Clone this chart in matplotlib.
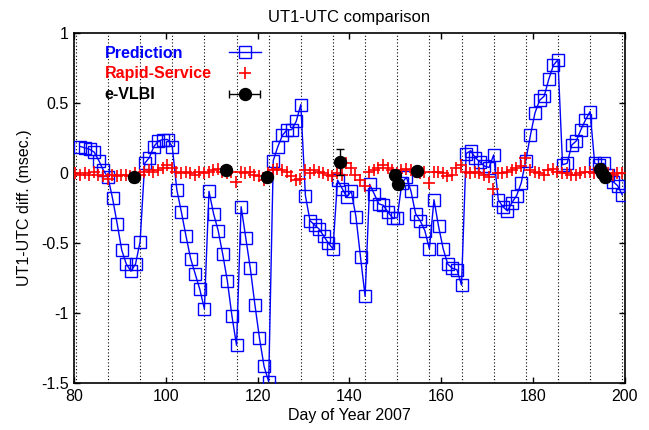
import numpy as np
import matplotlib
matplotlib.use("Agg")
import matplotlib.pyplot as plt
from matplotlib.ticker import FormatStrFormatter
from matplotlib.legend_handler import HandlerErrorbar

plt.rcParams['font.family'] = ['Liberation Sans', 'DejaVu Sans']
plt.rcParams['axes.unicode_minus'] = False

# Prediction (daily, blue squares)
pred_day0 = 81.4
pred_val = [0.19, 0.18, 0.17, 0.15, 0.09, 0.02, -0.03,
            -0.18, -0.36, -0.55, -0.65, -0.70, -0.65, -0.49,
            0.07, 0.11, 0.19, 0.23, 0.24, 0.24, 0.19,
            -0.12, -0.28, -0.45, -0.61, -0.72, -0.83, -0.97,
            -0.13, -0.29, -0.41, -0.58, -0.77, -1.02, -1.23,
            -0.24, -0.46, -0.68, -0.94, -1.18, -1.38, -1.49,
            0.09, 0.19, 0.27, 0.31, 0.31, 0.37, 0.49,
            -0.16, -0.34, -0.37, -0.40, -0.45, -0.50, -0.54,
            -0.05, -0.11, -0.17, -0.13, -0.31, -0.60, -0.88,
            -0.08, -0.15, -0.22, -0.23, -0.28, -0.32, -0.32,
            -0.07, -0.03, -0.13, -0.29, -0.34, -0.41, -0.54,
            -0.19, -0.38, -0.54, -0.65, -0.68, -0.69, -0.80,
            0.14, 0.16, 0.11, 0.08, 0.05, 0.04, 0.13,
            -0.19, -0.24, -0.27, -0.21, -0.16, -0.07, 0.09,
            0.27, 0.43, 0.52, 0.55, 0.67, 0.77, 0.81,
            0.06, 0.07, 0.20, 0.23, 0.31, 0.38, 0.44,
            0.07, 0.06, 0.07, -0.01, -0.06, -0.09, -0.155]
pred_day = pred_day0 + np.arange(len(pred_val))

# Rapid-Service (daily, red crosses)
rs_day0 = 80.3
rs_val = [0.00, -0.01, 0.00, -0.01, 0.01, -0.01, -0.02, -0.04, -0.01, -0.02,
          -0.01, -0.01, -0.02, 0.00, -0.01, 0.01, 0.02, 0.01, 0.02, 0.04,
          0.06, 0.04, 0.01, 0.00, 0.01, 0.00, -0.01, 0.01, 0.00, 0.01,
          0.02, 0.03, 0.01, 0.00, 0.01, -0.06, 0.01, 0.00, 0.01, -0.01,
          -0.02, -0.05, 0.00, 0.02, 0.03, 0.02, 0.01, -0.02, -0.05, -0.04,
          0.02, 0.00, 0.02, 0.01, 0.00, -0.01, -0.02, 0.00, -0.01, 0.07,
          0.04, -0.01, -0.05, -0.09, 0.01, 0.02, 0.04, 0.06, 0.04, 0.02,
          0.00, 0.02, 0.03, 0.02, 0.01, 0.00, 0.01, -0.07, 0.01, 0.01,
          0.00, -0.02, -0.01, 0.04, 0.06, 0.01, 0.00, 0.01, 0.00, -0.01,
          -0.03, -0.11, 0.00, 0.00, 0.01, 0.02, 0.04, 0.05, 0.11, 0.02,
          0.01, 0.00, -0.01, 0.02, 0.03, 0.01, 0.00, 0.00, -0.01, -0.01,
          0.00, 0.01, 0.01, 0.00, 0.00, -0.01, 0.00, -0.01, 0.00, 0.00]
rs_day = rs_day0 + np.arange(len(rs_val))

# e-VLBI sessions
ev_day = [93.1, 113.0, 122.0, 137.9, 150.0, 150.6, 154.7, 194.6, 195.1, 195.6]
ev_val = [-0.03, 0.02, -0.03, 0.08, -0.01, -0.08, 0.015, 0.03, 0.0, -0.03]
ev_err = [0.03, 0.03, 0.03, 0.09, 0.03, 0.03, 0.03, 0.03, 0.03, 0.03]

# weekly prediction epochs (dotted lines)
week_lines = np.arange(80.4, 200, 7)

fig = plt.figure(figsize=(6.49, 4.30), dpi=100)
ax = fig.add_axes([0.114, 0.109, 0.849, 0.814])

for d in week_lines:
    ax.axvline(d, color='black', linestyle=(0, (1, 2)), linewidth=0.8, zorder=1)

ax.plot(pred_day, pred_val, '-', color='#0000ff', linewidth=1.0, marker='s',
        markersize=8, markerfacecolor='none', markeredgecolor='#0000ff',
        markeredgewidth=1.0, zorder=3)
ax.plot(rs_day, rs_val, '+', color='#ff0000', markersize=9, markeredgewidth=1.2, zorder=4)
ax.errorbar(ev_day, ev_val, yerr=ev_err, fmt='o', color='black', markersize=8.6,
            elinewidth=1.0, capsize=3, capthick=1.0, zorder=5)

# legend samples
h_pred, = ax.plot([], [], '-', color='#0000ff', linewidth=1.0, marker='s',
                  markersize=8, markerfacecolor='none', markeredgewidth=1.0)
h_rs, = ax.plot([], [], '+', color='#ff0000', markersize=9, markeredgewidth=1.2)
h_ev = ax.errorbar([np.nan], [np.nan], xerr=[1.0], fmt='o', color='black',
                   markersize=8.6, elinewidth=1.0, capsize=3, capthick=1.0)

ax.set_xlim(80, 200)
ax.set_ylim(-1.5, 1)
ax.set_xticks([80, 100, 120, 140, 160, 180, 200])
ax.set_yticks([-1.5, -1, -0.5, 0, 0.5, 1])
ax.yaxis.set_major_formatter(FormatStrFormatter('%g'))
ax.tick_params(direction='in', length=4.5, width=1.0, top=True, right=True,
               labelsize=11.5, pad=4)
for s in ax.spines.values():
    s.set_linewidth(1.2)

ax.set_title('UT1-UTC comparison', fontsize=12, pad=8)
ax.set_xlabel('Day of Year 2007', fontsize=11.5, labelpad=3)
ax.set_ylabel('UT1-UTC diff. (msec.)', fontsize=11.5, labelpad=6)

leg = ax.legend([h_pred, h_rs, h_ev], ['Prediction', 'Rapid-Service', 'e-VLBI'],
                loc='upper left', bbox_to_anchor=(0.056, 0.964), frameon=False,
                markerfirst=False, borderpad=0, borderaxespad=0,
                labelspacing=0.36, handlelength=2.0, handletextpad=1.05,
                handler_map={type(h_ev): HandlerErrorbar(xerr_size=0.95)},
                prop={'weight': 'bold', 'size': 11.5})
for t, c in zip(leg.get_texts(), ['#0000ff', '#ff0000', 'black']):
    t.set_color(c)

# left-justify legend text while keeping the samples lined up
fig.canvas.draw()
r = fig.canvas.get_renderer()
widths = [t.get_window_extent(r).width for t in leg.get_texts()]
rows = leg._legend_handle_box.get_children()[0].get_children()
for row, w in zip(rows, widths):
    row.sep += (max(widths) - w) * 72 / fig.dpi

fig.savefig('out.png', dpi=100)
